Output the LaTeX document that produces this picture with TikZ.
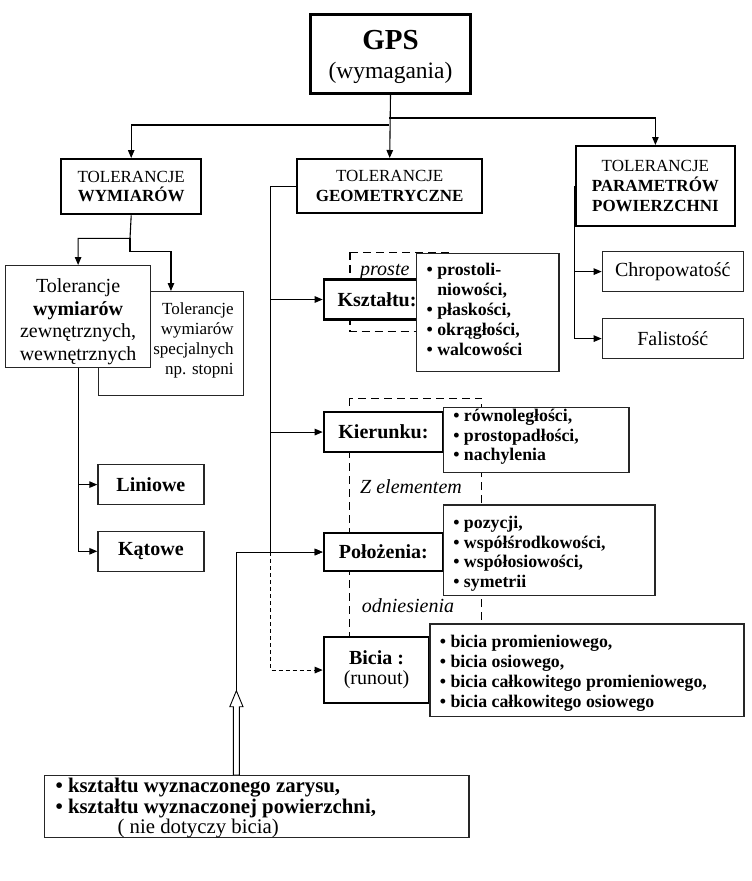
\documentclass[tikz,border=0pt]{standalone}
\usepackage{fontspec}
\setmainfont{Liberation Serif}
\usetikzlibrary{arrows.meta,calc}
\tikzset{
  thickbox/.style={draw, line width=2.4pt, fill=white, inner sep=0pt},
  thinbox/.style={draw=black!85, line width=1.2pt, fill=white, inner sep=0pt},
  conn/.style={line width=1.1pt, -{Triangle[length=8pt,width=6.5pt]}},
  plainline/.style={line width=1.1pt},
  grpdash/.style={line width=1.2pt, dash pattern=on 8pt off 5pt},
  finedash/.style={line width=1.1pt, dash pattern=on 4pt off 3pt},
  lbl/.style={inner sep=0pt, anchor=base west, font=\fontsize{20}{24}\selectfont\itshape},
  openarrow/.style={line width=0.9pt, fill=white},
}
\begin{document}
\begin{tikzpicture}[x=1pt,y=-1pt]
\useasboundingbox (0,0) rectangle (752,881);

% dashed group frames
\draw[grpdash] (350,252.3) rectangle (450,331.7);
\draw[grpdash] (349.3,398.3) rectangle (481.7,690);
\node[lbl] (lproste) at (360,275) {proste};
\node[lbl] (lzel) at (360,493.3) {Z elementem};
\node[lbl] (lodn) at (361.7,612.7) {odniesienia};

% top
\node[thickbox, line width=3pt, anchor=north west, text width=160pt, align=flush center,
      text height=35.3pt, text depth=43.7pt, font=\fontsize{23.5}{28.4}\selectfont]
      (GPS) at (309,13) {{\fontsize{29}{28.4}\selectfont\bfseries GPS}\\(wymagania)};
\node[thickbox, anchor=north west, minimum width=140pt, minimum height=55pt, align=center,
      font=\fontsize{17}{19.5}\selectfont] (W) at (60,158) {TOLERANCJE\\\textbf{WYMIARÓW}};
\node[thickbox, anchor=north west, minimum width=185pt, minimum height=54pt, align=center,
      font=\fontsize{17}{19.5}\selectfont] (G) at (296,158) {TOLERANCJE\\\textbf{GEOMETRYCZNE}};
\node[thickbox, anchor=north west, minimum width=159.2pt, minimum height=80pt, align=center,
      font=\fontsize{17}{20}\selectfont] (P) at (574.6,145) {TOLERANCJE\\\textbf{PARAMETRÓW}\\\textbf{POWIERZCHNI}};

% right column
\node[thinbox, anchor=north west, minimum width=141pt, minimum height=40pt,
      font=\fontsize{20}{24}\selectfont] (chrop) at (601.7,251) {Chropowatość};
\node[thinbox, anchor=north west, minimum width=141pt, minimum height=40pt,
      font=\fontsize{20}{24}\selectfont] (fal) at (601.7,318) {Falistość};

% left column
\node[thinbox, anchor=north west, inner xsep=10pt, text width=125.3pt, align=flush right,
      text height=23pt, text depth=81pt, font=\fontsize{17}{20}\selectfont]
      (w2) at (97.7,291) {Tolerancje\\wymiarów\\specjalnych\\np. stopni};
\node[thinbox, anchor=north west, text width=145pt, align=flush center,
      text height=26.7pt, text depth=75pt, font=\fontsize{20}{22.7}\selectfont]
      (w1) at (5,265) {Tolerancje\\\textbf{wymiarów}\\zewnętrznych,\\wewnętrznych};
\node[thinbox, anchor=north west, minimum width=106pt, minimum height=40pt,
      font=\fontsize{20}{24}\selectfont\bfseries] (lin) at (97.3,464) {Liniowe};
\node[thinbox, anchor=north west, minimum width=106pt, minimum height=40pt,
      font=\fontsize{20}{24}\selectfont\bfseries] (kat) at (97.3,530.7) {Kątowe};

% middle column
\node[thickbox, anchor=north west, minimum width=106.3pt, minimum height=40pt,
      font=\fontsize{20}{24}\selectfont\bfseries] (ksz) at (322.7,278.3) {Kształtu:};
\node[thinbox, anchor=north west, inner xsep=10pt, text width=122.3pt, align=flush left,
      text height=22.3pt, text depth=95.7pt, font=\fontsize{17.8}{20}\selectfont\bfseries]
      (kszl) at (416,252.7) {• prostoli-\\\phantom{• }niowości,\\• płaskości,\\• okrągłości,\\• walcowości};

\node[thickbox, anchor=north west, minimum width=119pt, minimum height=40.3pt,
      font=\fontsize{20}{24}\selectfont\bfseries] (kie) at (322.7,410.7) {Kierunku:};
\node[thinbox, anchor=north west, inner xsep=10pt, text width=165.6pt, align=flush left,
      text height=14.3pt, text depth=50.7pt, font=\fontsize{17.8}{19.5}\selectfont\bfseries]
      (kiel) at (442.7,406.7) {• równoległości,\\• prostopadłości,\\• nachylenia};

\node[thickbox, anchor=north west, minimum width=119pt, minimum height=38.3pt,
      font=\fontsize{20}{24}\selectfont\bfseries] (pol) at (322.7,531.7) {Położenia:};
\node[thinbox, anchor=north west, inner xsep=10pt, text width=191.6pt, align=flush left,
      text height=24pt, text depth=66.7pt, font=\fontsize{17.8}{19.5}\selectfont\bfseries]
      (poll) at (442.7,504.3) {• pozycji,\\• współśrodkowości,\\• współosiowości,\\• symetrii};

\node[thickbox, anchor=north west, text width=105.3pt, align=flush center,
      text height=27.3pt, text depth=38.4pt, font=\fontsize{20}{20}\selectfont]
      (bic) at (322.7,636) {\textbf{Bicia :}\\(runout)};
\node[thinbox, anchor=north west, inner xsep=10pt, text width=294pt, align=flush left,
      text height=23.4pt, text depth=69.3pt, font=\fontsize{17.8}{20}\selectfont\bfseries]
      (bicl) at (429.3,623.3) {• bicia promieniowego,\\• bicia osiowego,\\• bicia całkowitego promieniowego,\\• bicia całkowitego osiowego};

% bottom box
\node[thinbox, anchor=north west, inner xsep=11pt, text width=402.3pt, align=flush left,
      text height=17pt, text depth=44.7pt, font=\fontsize{20.8}{20.5}\selectfont]
      (bot) at (44,775) {\textbf{• kształtu wyznaczonego zarysu,}\\\textbf{• kształtu wyznaczonej powierzchni,}\\\hspace*{62pt}( nie dotyczy bicia)};

% connectors from GPS
\coordinate (j1) at (389,125);
\coordinate (j2) at (389,118);
\draw[conn] (GPS.south) -- (G.north);
\draw[conn] (j1) -| (W.north);
\draw[conn] (j2) -| (P.north);

% left tree
\coordinate (wa) at (130,238.3);
\coordinate (wb) at (130,251.7);
\draw[conn] (W.south) -- (wa) -| (w1.north);
\draw[conn] (wa) -- (wb) -| (w2.north);
\draw[conn] (w1.south) |- (lin.west);
\draw[conn] (w1.south) |- (kat.west);

% right tree
\draw[conn] (P.west) |- (chrop.west);
\draw[conn] (P.west) |- (fal.west);

% middle tree
\coordinate (gx) at (270.7,0);
\draw[plainline] (G.west) -| (gx |- pol.west);
\draw[conn] (gx |- ksz.west) -- (ksz.west);
\draw[conn] (gx |- kie.west) -- (kie.west);
\draw[conn] (gx |- pol.west) -- (pol.west);
\draw[finedash, -{Triangle[length=8pt,width=6.5pt]}] (gx |- pol.west) |- (bic.west);

% from bottom box
\coordinate (tip) at (236.4,690.7);
\coordinate (tb) at (tip |- bot.north);
\draw[conn] (tip) |- (pol.west);
\draw[openarrow] (tip) -- ($(tip)+(6.6,16)$) -- ($(tip)+(3,16)$) -- ($(tb)+(3,0)$)
   -- ($(tb)+(-3,0)$) -- ($(tip)+(-3,16)$) -- ($(tip)+(-6.6,16)$) -- cycle;
\end{tikzpicture}
\end{document}
